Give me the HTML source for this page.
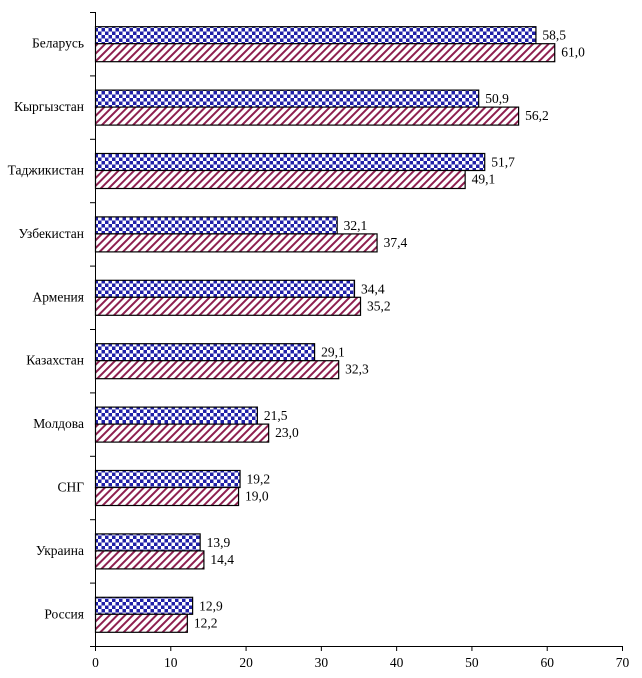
<!DOCTYPE html>
<html><head><meta charset="utf-8"><style>body{margin:0;background:#fff}svg{display:block}text{font-family:"Liberation Serif",serif;font-size:13.5px;fill:#000}</style></head><body>
<svg width="642" height="678" xmlns="http://www.w3.org/2000/svg">
<defs>
<pattern id="chk" width="7" height="7" patternUnits="userSpaceOnUse"><rect width="7" height="7" fill="#2020a8"/><rect width="3.5" height="3.5" fill="#fff"/><rect x="3.5" y="3.5" width="3.5" height="3.5" fill="#fff"/></pattern>
<pattern id="str" width="5.5" height="5.5" patternUnits="userSpaceOnUse" patternTransform="rotate(45)"><rect width="5.5" height="5.5" fill="#fff"/><rect width="2" height="5.5" fill="#8e2050"/></pattern>
</defs>
<g id="bars"></g>
<line x1="95.5" y1="12" x2="95.5" y2="646" stroke="#000"/>
<line x1="95" y1="646.5" x2="623" y2="646.5" stroke="#000"/>
<g id="ax"></g>
</svg>
<script>
var d=[["Беларусь",58.5,61.0],["Кыргызстан",50.9,56.2],["Таджикистан",51.7,49.1],["Узбекистан",32.1,37.4],["Армения",34.4,35.2],["Казахстан",29.1,32.3],["Молдова",21.5,23.0],["СНГ",19.2,19.0],["Украина",13.9,14.4],["Россия",12.9,12.2]];
var ns="http://www.w3.org/2000/svg",g=document.getElementById("bars"),a=document.getElementById("ax");
function el(p,t,o,tx){var e=document.createElementNS(ns,t);for(var k in o)e.setAttribute(k,o[k]);if(tx!==undefined)e.textContent=tx;p.appendChild(e);}
var sx=527/70;
d.forEach(function(r,i){var c=12+31.7+63.4*i;
el(g,"rect",{x:95.5,y:c-17,width:r[1]*sx,height:17,fill:"url(#chk)",stroke:"#000","stroke-width":1.2});
el(g,"rect",{x:95.5,y:c,width:r[2]*sx,height:18,fill:"url(#str)",stroke:"#000","stroke-width":1.2});
el(g,"text",{x:95+r[1]*sx+7,y:c-4},r[1].toFixed(1).replace(".",","));
el(g,"text",{x:95+r[2]*sx+7,y:c+13},r[2].toFixed(1).replace(".",","));
el(g,"text",{x:84,y:c+4,"text-anchor":"end"},r[0]);
});
for(var i=0;i<=10;i++){var y=12+63.4*i+0.5;el(a,"line",{x1:90,x2:95,y1:y,y2:y,stroke:"#000"});}
for(var v=0;v<=70;v+=10){var x=95.5+v*sx;el(a,"line",{x1:x,x2:x,y1:646,y2:651,stroke:"#000"});el(a,"text",{x:x,y:667,"text-anchor":"middle"},v);}
</script>
</body></html>
